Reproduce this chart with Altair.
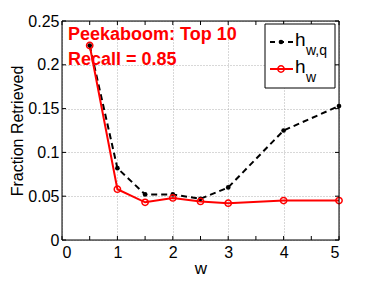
import altair as alt
import pandas as pd

w_vals = [0.5, 1, 1.5, 2, 2.5, 3, 4, 5]
h_wq = [0.222, 0.082, 0.052, 0.052, 0.047, 0.060, 0.125, 0.153]
h_w = [0.222, 0.058, 0.043, 0.048, 0.044, 0.042, 0.045, 0.045]

x_ticks = [0, 0.5, 1, 1.5, 2, 2.5, 3, 3.5, 4, 4.5, 5]
y_ticks = [0, 0.05, 0.1, 0.15, 0.2, 0.25]

W, H = 277, 219
FONT = "Liberation Sans"

df = pd.DataFrame({"w": w_vals, "hwq": h_wq, "hw": h_w})

xs = alt.Scale(domain=[0, 5], nice=False)
ys = alt.Scale(domain=[0, 0.25], nice=False)

xaxis = alt.Axis(values=x_ticks, labelExpr="datum.value % 1 == 0 ? format(datum.value, 'd') : ''",
                 grid=True, gridDash=[1, 2], gridColor="#b0b0b0", tickSize=0, labelPadding=4,
                 domain=False, labelFontSize=16, titleFontSize=17, labelFont=FONT, titleFont=FONT,
                 titleFontWeight="normal", labelColor="black", titleColor="black", title="w",
                 titlePadding=0)
yaxis = alt.Axis(values=y_ticks, labelExpr="datum.value == 0 ? '0' : format(datum.value, '')",
                 grid=True, gridDash=[1, 2], gridColor="#b0b0b0", tickSize=0, labelPadding=3,
                 domain=False, labelFontSize=16, titleFontSize=16, labelFont=FONT, titleFont=FONT,
                 titleFontWeight="normal", labelColor="black", titleColor="black",
                 title="Fraction Retrieved", titlePadding=2)

base = alt.Chart(df)

black_line = base.mark_line(color="black", strokeWidth=2, strokeDash=[6, 4]).encode(
    x=alt.X("w:Q", scale=xs, axis=xaxis), y=alt.Y("hwq:Q", scale=ys, axis=yaxis))
black_pts = base.mark_point(color="black", filled=True, size=22, opacity=1).encode(
    x=alt.X("w:Q", scale=xs), y=alt.Y("hwq:Q", scale=ys))
red_line = base.mark_line(color="#ff0000", strokeWidth=2).encode(
    x=alt.X("w:Q", scale=xs), y=alt.Y("hw:Q", scale=ys))
red_pts = base.mark_point(color="#ff0000", filled=False, size=40, strokeWidth=1.5, opacity=1).encode(
    x=alt.X("w:Q", scale=xs), y=alt.Y("hw:Q", scale=ys))

# inner ticks
xt = pd.DataFrame({"t": x_ticks})
yt = pd.DataFrame({"t": y_ticks})
tb = alt.Chart(xt).mark_rule(color="black", strokeWidth=1).encode(
    x=alt.X("t:Q", scale=xs), y=alt.value(H), y2=alt.value(H - 4))
tt = alt.Chart(xt).mark_rule(color="black", strokeWidth=1).encode(
    x=alt.X("t:Q", scale=xs), y=alt.value(0), y2=alt.value(4))
tl = alt.Chart(yt).mark_rule(color="black", strokeWidth=1).encode(
    y=alt.Y("t:Q", scale=ys), x=alt.value(0), x2=alt.value(4))
tr = alt.Chart(yt).mark_rule(color="black", strokeWidth=1).encode(
    y=alt.Y("t:Q", scale=ys), x=alt.value(W), x2=alt.value(W - 4))

# annotation
ann = alt.Chart(pd.DataFrame({"t": ["Peekaboom: Top 10", "Recall = 0.85"], "yy": [14, 39]})).mark_text(
    color="#ff0000", fontWeight="bold", fontSize=18, font=FONT, align="left", baseline="middle").encode(
    text="t:N", x=alt.value(6), y=alt.Y("yy:Q", scale=None))

# legend
LX, LY = 203, 3
box = alt.Chart(pd.DataFrame({"a": [0]})).mark_rect(fill="white", stroke="black", strokeWidth=1).encode(
    x=alt.value(LX), x2=alt.value(LX + 70), y=alt.value(LY), y2=alt.value(LY + 64))
leg_l1 = alt.Chart(pd.DataFrame({"a": [0]})).mark_rule(color="black", strokeWidth=2, strokeDash=[5, 4]).encode(
    x=alt.value(LX + 5), x2=alt.value(LX + 28), y=alt.value(LY + 18))
leg_p1 = alt.Chart(pd.DataFrame({"a": [0]})).mark_point(color="black", filled=True, size=22, opacity=1).encode(
    x=alt.value(LX + 16), y=alt.value(LY + 18))
leg_l2 = alt.Chart(pd.DataFrame({"a": [0]})).mark_rule(color="#ff0000", strokeWidth=2).encode(
    x=alt.value(LX + 5), x2=alt.value(LX + 28), y=alt.value(LY + 45))
leg_p2 = alt.Chart(pd.DataFrame({"a": [0]})).mark_point(color="#ff0000", filled=False, size=40, strokeWidth=1.5, opacity=1).encode(
    x=alt.value(LX + 16), y=alt.value(LY + 45))
leg_h = alt.Chart(pd.DataFrame({"t": ["h", "h"], "yy": [LY + 16, LY + 43]})).mark_text(
    fontSize=19, font=FONT, align="left", baseline="middle", color="black").encode(
    text="t:N", x=alt.value(LX + 30), y=alt.Y("yy:Q", scale=None))
leg_s = alt.Chart(pd.DataFrame({"t": ["w,q", "w"], "yy": [LY + 27, LY + 54]})).mark_text(
    fontSize=14, font=FONT, align="left", baseline="middle", color="black").encode(
    text="t:N", x=alt.value(LX + 41), y=alt.Y("yy:Q", scale=None))

frame = alt.Chart(pd.DataFrame({"a": [0]})).mark_rect(fill=None, stroke="black", strokeWidth=1).encode(
    x=alt.value(0), x2=alt.value(W), y=alt.value(0), y2=alt.value(H))

chart = alt.layer(black_line, red_line, black_pts, red_pts, tb, tt, tl, tr, frame, ann,
                  box, leg_l1, leg_p1, leg_l2, leg_p2, leg_h, leg_s).properties(
    width=W, height=H, autosize=alt.AutoSizeParams(type="none"),
    padding={"left": 54, "top": 13, "right": 19, "bottom": 41}
).configure_view(stroke=None).configure(background="white")

chart.save("out.html", embed_options={"renderer": "svg", "actions": False})
